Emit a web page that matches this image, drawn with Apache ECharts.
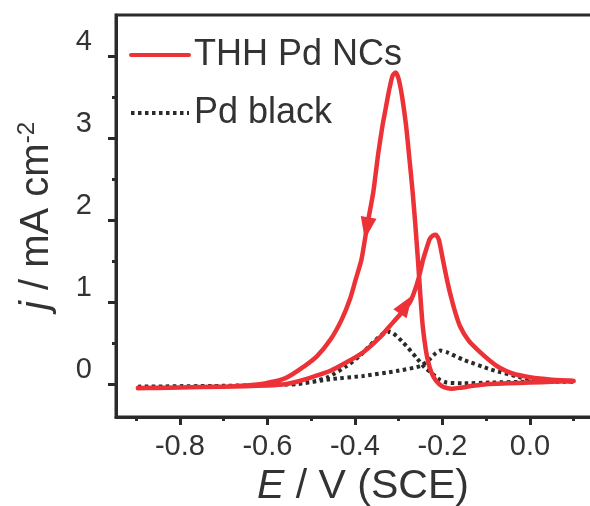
<!DOCTYPE html>
<html>
<head>
<meta charset="utf-8">
<script src="https://cdn.jsdelivr.net/npm/echarts@6/dist/echarts.min.js"></script>
<style>
  html, body { margin: 0; padding: 0; background: #fff; }
  #chart { width: 590px; height: 506px; }
</style>
</head>
<body>
<div id="chart"></div>
<script>
// Cyclic voltammograms: potential E (V vs SCE) and current density j (mA cm^-2)
// Each scan is listed in sweep order: anodic sweep then cathodic sweep.
const thhForward = [
  [-0.896, -0.05], [-0.85, -0.045], [-0.80, -0.04], [-0.75, -0.035], [-0.70, -0.03],
  [-0.65, -0.025], [-0.60, -0.015], [-0.56, 0.0], [-0.533, 0.03], [-0.496, 0.09],
  [-0.457, 0.16], [-0.418, 0.27], [-0.381, 0.39], [-0.343, 0.57], [-0.32, 0.71],
  [-0.297, 0.85], [-0.274, 1.00], [-0.262, 1.16], [-0.252, 1.34], [-0.244, 1.52],
  [-0.236, 1.66], [-0.229, 1.77], [-0.222, 1.81], [-0.215, 1.82], [-0.208, 1.76],
  [-0.199, 1.52], [-0.191, 1.31], [-0.183, 1.12], [-0.172, 0.90], [-0.160, 0.71],
  [-0.14, 0.53], [-0.114, 0.39], [-0.09, 0.28], [-0.069, 0.20], [-0.04, 0.13],
  [0.0, 0.085], [0.05, 0.055], [0.10, 0.04]
];
const thhReverse = [
  [0.10, 0.035], [0.05, 0.03], [0.0, 0.02], [-0.05, 0.01], [-0.10, 0.0],
  [-0.13, -0.02], [-0.16, -0.045], [-0.18, -0.055], [-0.195, -0.04], [-0.207, 0.0],
  [-0.217, 0.06], [-0.225, 0.14], [-0.232, 0.26], [-0.238, 0.42], [-0.245, 0.71],
  [-0.250, 1.05], [-0.256, 1.52], [-0.262, 1.95], [-0.268, 2.34], [-0.276, 2.78],
  [-0.283, 3.15], [-0.292, 3.50], [-0.300, 3.72], [-0.307, 3.80], [-0.314, 3.76],
  [-0.322, 3.58], [-0.330, 3.35], [-0.337, 3.15], [-0.347, 2.80], [-0.358, 2.34],
  [-0.372, 1.93], [-0.385, 1.52], [-0.398, 1.28], [-0.411, 1.04], [-0.430, 0.79],
  [-0.455, 0.55], [-0.487, 0.34], [-0.526, 0.18], [-0.56, 0.07], [-0.606, 0.01],
  [-0.65, -0.015], [-0.70, -0.03], [-0.80, -0.04], [-0.896, -0.045]
];
const pdForward = [
  [-0.896, -0.03], [-0.80, -0.03], [-0.70, -0.02], [-0.60, -0.01], [-0.533, 0.0],
  [-0.457, 0.06], [-0.381, 0.10], [-0.305, 0.16], [-0.251, 0.22], [-0.23, 0.30],
  [-0.215, 0.38], [-0.205, 0.41], [-0.19, 0.39], [-0.153, 0.30], [-0.09, 0.18],
  [-0.023, 0.085], [0.0, 0.06], [0.05, 0.04], [0.10, 0.03]
];
const pdReverse = [
  [0.10, 0.03], [0.0, 0.03], [-0.09, 0.02], [-0.153, 0.01], [-0.19, 0.02],
  [-0.205, 0.05], [-0.228, 0.15], [-0.24, 0.20], [-0.259, 0.32], [-0.29, 0.51],
  [-0.32, 0.64], [-0.34, 0.60], [-0.366, 0.47], [-0.39, 0.34], [-0.419, 0.22],
  [-0.46, 0.09], [-0.496, 0.03], [-0.55, 0.0], [-0.60, -0.01], [-0.70, -0.02],
  [-0.896, -0.03]
];
// Sweep-direction arrowheads on the THH Pd NCs curve: [E, j, rotation]
const sweepArrows = [[-0.373, 1.90, 170], [-0.283, 0.97, -34]];

const seriesNames = ['THH Pd NCs', 'Pd black'];
const xMajorTicks = [-0.8, -0.6, -0.4, -0.2, 0.0];
const xMinorTicks = [-0.9, -0.7, -0.5, -0.3, -0.1, 0.1];
const yMajorTicks = [0, 1, 2, 3, 4];
const yMinorTicks = [0.5, 1.5, 2.5, 3.5];

const RED = '#ec3237';
const INK = '#2a2a2a';
const TEXT = '#333';
const FONT = 'Liberation Sans';

// The plot box runs past the right-hand edge of the canvas
const xRange = { min: -0.946, max: 0.183 };
const yRange = { min: -0.4, max: 4.5 };
const plotBox = { left: 116, top: 15, right: -20, bottom: 89, outerBoundsMode: 'none' };

const chart = echarts.init(document.getElementById('chart'), null, { renderer: 'canvas' });

function baseAxis(extra) {
  return Object.assign({
    type: 'value',
    splitLine: { show: false },
    axisLine: { show: true, onZero: false, lineStyle: { color: INK, width: 3 } },
    axisTick: { show: false },
    axisLabel: { show: false }
  }, extra);
}

chart.setOption({
  animation: false,
  textStyle: { fontFamily: FONT },
  // grid 0 carries the frame, major ticks and labels; grid 1 (same box) the minor ticks
  grid: [
    Object.assign({ show: true, borderColor: INK, borderWidth: 3, backgroundColor: 'transparent' }, plotBox),
    Object.assign({}, plotBox)
  ],
  legend: {
    data: seriesNames,
    orient: 'vertical',
    left: 124,
    top: 32,
    itemWidth: 58,
    itemHeight: 14,
    itemGap: 22,
    itemStyle: { opacity: 0, borderWidth: 0 },
    lineStyle: { width: 4 },
    textStyle: { fontFamily: FONT, fontSize: 36, color: TEXT }
  },
  xAxis: [
    baseAxis(Object.assign({}, xRange, {
      gridIndex: 0,
      position: 'bottom',
      axisTick: { show: true, customValues: xMajorTicks, length: 8, lineStyle: { width: 3, color: INK } },
      axisLabel: {
        show: true, customValues: xMajorTicks, margin: 15,
        fontSize: 29, color: TEXT, fontFamily: FONT,
        formatter: v => v.toFixed(1)
      },
      name: '{i|E} / V (SCE)',
      nameLocation: 'middle',
      nameGap: 43,
      nameTextStyle: {
        fontSize: 41, color: TEXT, fontFamily: FONT,
        rich: { i: { fontSize: 41, fontStyle: 'italic', color: TEXT, fontFamily: FONT } }
      }
    })),
    baseAxis(Object.assign({}, xRange, {
      gridIndex: 1,
      position: 'bottom',
      axisLine: { show: false, onZero: false },
      axisTick: { show: true, customValues: xMinorTicks, length: 4, lineStyle: { width: 3, color: INK } }
    }))
  ],
  yAxis: [
    baseAxis(Object.assign({}, yRange, {
      gridIndex: 0,
      position: 'left',
      axisTick: { show: true, customValues: yMajorTicks, length: 8, lineStyle: { width: 3, color: INK } },
      axisLabel: {
        show: true, customValues: yMajorTicks, margin: 24, verticalAlign: 'bottom',
        fontSize: 29, color: TEXT, fontFamily: FONT
      },
      name: '{i|j} / mA cm{sup|-2}',
      nameLocation: 'middle',
      nameRotate: 90,
      nameGap: 57,
      nameTextStyle: {
        fontSize: 40, color: TEXT, fontFamily: FONT,
        rich: {
          i: { fontSize: 40, fontStyle: 'italic', color: TEXT, fontFamily: FONT },
          sup: { fontSize: 24, color: TEXT, fontFamily: FONT, verticalAlign: 'top', padding: [0, 0, 20, 0] }
        }
      }
    })),
    baseAxis(Object.assign({}, yRange, {
      gridIndex: 1,
      position: 'left',
      axisLine: { show: false, onZero: false },
      axisTick: { show: true, customValues: yMinorTicks, length: 4, lineStyle: { width: 3, color: INK } }
    }))
  ],
  series: [
    {
      name: seriesNames[0],
      type: 'line',
      xAxisIndex: 0, yAxisIndex: 0,
      symbol: 'none',
      smooth: 0.2,
      data: thhForward.concat(thhReverse),
      lineStyle: { color: RED, width: 4.5, cap: 'round', join: 'round' },
      itemStyle: { color: RED },
      z: 3
    },
    {
      name: seriesNames[1],
      type: 'line',
      xAxisIndex: 0, yAxisIndex: 0,
      symbol: 'none',
      smooth: 0.2,
      data: pdForward.concat(pdReverse),
      lineStyle: { color: INK, width: 4, type: [3.5, 3.5] },
      itemStyle: { color: INK },
      z: 2
    },
    {
      name: 'arrows',
      type: 'scatter',
      xAxisIndex: 0, yAxisIndex: 0,
      symbol: 'triangle',
      symbolSize: [16, 22],
      symbolRotate: (value) => value[2],
      data: sweepArrows,
      itemStyle: { color: RED, opacity: 1 },
      z: 4
    }
  ]
});
</script>
</body>
</html>
